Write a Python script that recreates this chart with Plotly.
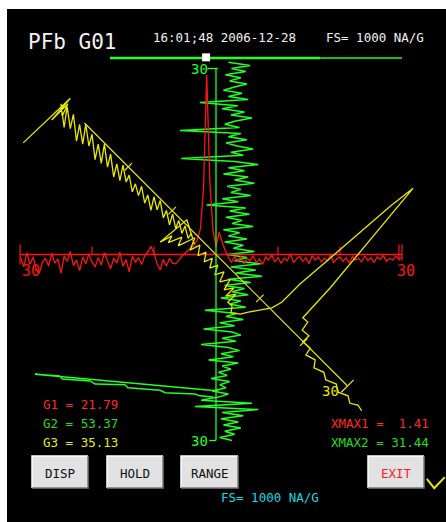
import numpy as np
import plotly.graph_objects as go

W, H = 446, 522

# ---------------------------------------------------------------- data
# Channel 1 (red): horizontal sweep, one sample every 0.5 division
red_start, red_step = -31.5, 0.5
red_vals = [
    -0.5, -2.0, 0.3, -1.6, -0.4, -2.4, -3.0, -1.3, -0.6, -1.9,
    0.2, -1.4, -0.7, -3.0, -0.3, -1.1, 0.5, -1.8, -0.9, -2.6,
    -0.4, -1.5, 0.1, -1.2, -2.0, -0.5, -1.7, 0.3, -1.0, -2.3,
    -0.6, -1.4, 0.4, -1.9, -0.8, -2.8, -0.3, -1.2, -0.5, -1.6,
    -0.2, 0.4, 1.3, 0.2, -1.5, -2.5, -0.8, -1.9, -0.6, -1.4,
    -1.5, -0.8, -0.3, 0.2, 0.6, 1.0, 1.5, 2.4, 4.2, 11.0,
    29.0, 12.0, 4.0, 1.2, 3.6, 2.0, 0.6, -0.4, -1.3, -0.3,
    -1.2, -0.3, -1.5, -0.6, -1.0, -0.2, -1.3, -0.7, -1.6, -0.4,
    -0.9, -0.1, -1.2, -0.5, -1.4, -0.6, -1.0, 0.1, -1.3, -0.7,
    -0.3, -1.1, -0.5, -1.5, -0.2, -0.9, -0.4, -1.2, -0.6, -1.0,
    -0.1, -1.3, -0.7, -0.4, -1.1, -0.5, -1.4, -0.3, -0.9, -0.6,
    -1.2, -0.2, -1.0, -0.5, -1.3, -0.4, -0.8, -0.2, -1.1, -0.6,
    -0.9, -0.3, -0.7, -0.4,
]

# Channel 2 (green): vertical sweep from top to bottom
green_start, green_step = 31.0, -0.5
green_vals = [
    2.0, 5.5, 2.5, 4.8, 1.5, 4.0, 2.2, 5.0, 3.0, 1.2,
    4.2, 2.0, 5.2, -2.6, 3.5, 1.0, 4.6, 2.4, 5.8, 3.0,
    1.4, 3.8, -5.8, 4.0, 2.0, 5.0, 1.6, 3.4, 6.0, 2.4,
    4.4, -5.6, 3.0, 6.8, 2.0, 4.6, 1.2, 5.2, 3.0, 6.2,
    1.8, 4.0, 2.4, 5.6, 1.0, 3.6, -1.5, 4.8, 2.2, 5.4,
    1.6, 4.2, 2.6, 6.0, 1.2, 3.8, 2.0, 5.0, 1.4, 4.4,
    2.8, 6.2, 1.8, 5.0, 3.0, 7.2, 2.4, 6.4, 3.2, 7.4,
    2.0, 5.6, 1.4, 4.6, 2.6, 5.2, 0.8, 4.0, 2.2, 4.8,
    -1.8, 3.4, 1.6, 4.4, 0.6, 3.0, -2.0, 2.6, 4.0, 1.0,
    3.2, -2.4, 2.0, 3.8, 0.8, 2.8, -1.2, 3.6, 1.0, 2.4,
    0.4, 1.8, -0.8, 2.2, 0.6, 1.6, -0.6, 2.0, 0.4, -2.4,
    5.8, -3.4, 6.8, 1.0, 4.4, 0.8, 3.6, 1.2, 4.0, 1.4,
    3.0, 0.6, 2.6,
]
# long excursion of channel 2 towards the left edge and back
green_tail_u = [0.4, -29.2, -25.2, -24.8, -20.3, -19.5, -14.7, -14.2,
                -9.0, -8.2, -3.4, -2.6, -0.5]
green_tail_v = [-22.0, -19.3, -19.6, -20.1, -20.4, -20.9, -21.0, -21.5,
                -21.9, -22.3, -22.5, -22.8, -23.0]

# Channel 3 (yellow): X/Y orbit
yellow_lead_u = [-31.1, -23.5, -26.5, -23.9, -24.8]
yellow_lead_v = [18.0, 25.2, 21.7, 24.3, 22.3]
yellow_band_start, yellow_band_step = -25.0, 0.5
yellow_band_v = [
    24.3, 20.5, 23.8, 20.3, 22.6, 18.3, 21.0, 17.8, 21.0, 17.5,
    19.4, 15.3, 17.8, 14.7, 17.8, 14.1, 16.2, 12.5, 14.6, 11.9,
    14.4, 11.7, 12.8, 10.1, 11.4, 9.5, 11.0, 8.3, 9.6, 7.1,
    9.3, 7.2, 8.7, 5.9, 7.1, 4.8, 6.5, 4.2, 5.5, 3.4,
    4.6, 2.6, 3.4, 1.7,
]
yellow_tail_u = [
    -4.7, -9.0, -7.1, -7.7, -5.5, -6.1, -3.4, -4.2, -2.6, -2.9,
    -1.6, -1.9, -0.6, -1.0, 0.3, -0.2, 1.3, 0.6, 2.3, 1.3,
    2.9, 1.6, 3.2, 1.9, 2.6, 2.4, 3.9, 5.2, 6.5, 7.7,
    9.0, 10.6, 13.5, 18.4, 23.2, 28.1, 31.8, 29.4, 26.5, 22.1,
    18.4, 14.0, 14.8, 13.9, 15.0, 14.0, 15.2, 14.5, 16.0, 15.8,
    17.4, 17.7, 19.4, 19.7, 21.3, 21.6, 22.9, 23.5,
]
yellow_tail_v = [
    5.6, 2.0, 3.0, 1.9, 2.8, 1.4, 2.7, 0.7, 1.5, -0.2,
    0.4, -1.2, -0.6, -2.2, -1.7, -3.3, -2.8, -4.4, -4.0, -5.7,
    -5.4, -6.7, -6.4, -7.7, -8.3, -9.4, -9.6, -9.3, -9.1, -8.8,
    -8.6, -7.7, -4.8, -0.6, 3.6, 7.8, 10.7, 7.8, 4.3, -0.9,
    -5.4, -10.2, -10.9, -12.2, -13.1, -14.1, -15.1, -16.2, -17.0, -18.3,
    -19.0, -20.2, -20.9, -22.2, -22.8, -24.0, -24.3, -25.2,
]
yellow_mark_u = [34.0, 35.2, 36.9]
yellow_mark_v = [-36.2, -37.7, -35.9]

# Scales (divisions) and read-outs
FULL = 30
TICKS = [-20, -10, 10, 20]
red_axis_span = [-31.6, 30.0]
scroll_span = [-17.1, 30.0]
scroll_fill = 16.8
scroll_pos = -1.6
readouts_left = [("G1 = 21.79", "#ff2a2a"), ("G2 = 53.37", "#22dd22"),
                 ("G3 = 35.13", "#eeee00")]
readouts_right = [("XMAX1 =\u00a0\u00a01.41", "#ff2a2a"),
                  ("XMAX2 = 31.44", "#22dd22")]
buttons = ["DISP", "HOLD", "RANGE", "EXIT"]

RED, GREEN, YELLOW = "#ff1414", "#22ff22", "#e8e800"
MONO = "DejaVu Sans Mono"

# ---------------------------------------------------------------- figure
fig = go.Figure()


def trace(u, v, color, width=1.0, **kw):
    fig.add_trace(go.Scatter(x=u, y=v, mode="lines",
                             line=dict(color=color, width=width),
                             hoverinfo="skip", showlegend=False, **kw))


# green channel
gv = green_start + green_step * np.arange(len(green_vals))
trace(green_vals, gv, GREEN, 1.5)
trace(green_tail_u, green_tail_v, GREEN, 1.5)

# red channel
ru = red_start + red_step * np.arange(len(red_vals))
trace(ru, red_vals, RED, 1.3)
trace(red_axis_span, [0, 0], RED, 1.3)
tu, tv = [], []
for t in TICKS:
    tu += [t, t, None]
    tv += [0, 1.3, None]
for t, lo in [(red_axis_span[0], -1.6), (29.5, -1.0), (30.0, -1.0)]:
    tu += [t, t, None]
    tv += [lo, 1.6, None]
trace(tu, tv, RED, 1.2)

# yellow channel
yu = yellow_band_start + yellow_band_step * np.arange(len(yellow_band_v))
trace(yellow_lead_u + list(yu) + yellow_tail_u,
      yellow_lead_v + yellow_band_v + yellow_tail_v, YELLOW, 1.3)
trace(yellow_mark_u, yellow_mark_v, YELLOW, 2.0)

# yellow diagonal scale (axis rotated by 45 degrees)
r = FULL / np.sqrt(2)
trace([-r, r], [r, -r], YELLOW, 1.2)
du, dv = [], []
for t in TICKS + [FULL]:
    c = t / np.sqrt(2)
    a = 1.0 if t == FULL else 0.6
    du += [c - a, c + a, None]
    dv += [-c - a, -c + a, None]
trace(du, dv, YELLOW, 1.2)

# green vertical scale
trace([0, 0], [-FULL, FULL], GREEN, 1.3)
trace([-1.4, 0.3, None, -1.1, 0], [FULL, FULL, None, -FULL, -FULL], GREEN, 1.3)

# scroll indicator along the top
trace(scroll_span[:1] + [scroll_fill], [31.7, 31.7], GREEN, 2.4)
trace([scroll_fill, scroll_span[1]], [31.7, 31.7], GREEN, 1.4)
fig.add_trace(go.Scatter(x=[scroll_pos], y=[31.8], mode="markers",
                         marker=dict(symbol="square", size=8, color="white"),
                         hoverinfo="skip", showlegend=False))

# ---------------------------------------------------------------- layout
def px(x):
    return x / W


def py(y):
    return 1 - y / H


shapes = [dict(type="rect", xref="paper", yref="paper", x0=px(7), x1=1,
               y0=0, y1=py(9), fillcolor="black", line_width=0, layer="below")]
annotations = []


def label(x, y, s, color, size, anchor="center", ref="paper"):
    if ref == "paper":
        d = dict(xref="paper", yref="paper", x=px(x), y=py(y))
    else:
        d = dict(xref="x", yref="y", x=x, y=y)
    annotations.append(dict(text=s, showarrow=False, xanchor=anchor,
                            yanchor="middle",
                            font=dict(family=MONO, size=size, color=color),
                            **d))


label(72, 42, "PFb G01", "#f2f2f2", 21)
label(224, 38, "16:01;48 2006-12-28", "#f2f2f2", 12.5)
label(375, 38, "FS= 1000 NA/G", "#f2f2f2", 12.5)
label(270, 497, "FS= 1000 NA/G", "#18d8e0", 12.5)

for k, (s, c) in enumerate(readouts_left):
    label(41, 404 + 19 * k, s, c, 12.5, "left")
for k, (s, c) in enumerate(readouts_right):
    label(431, 423 + 19 * k, s, c, 12.5, "right")

# scale labels
label(-29.9, -2.6, str(FULL), RED, 15, ref="data")
label(30.6, -2.6, str(FULL), RED, 15, ref="data")
label(-2.7, FULL, str(FULL), GREEN, 14, ref="data")
label(-2.6, -FULL, str(FULL), GREEN, 14, ref="data")
label(18.5, -22.0, str(FULL), YELLOW, 14, ref="data")

# push buttons
btn_x = [(32, 88), (107, 163), (181, 238), (368, 424)]
by0, by1 = 456, 488
for name, (x0, x1) in zip(buttons, btn_x):
    shapes.append(dict(type="rect", xref="paper", yref="paper",
                       x0=px(x0), x1=px(x1), y0=py(by1), y1=py(by0),
                       fillcolor="#e2e2e2", line_width=0, layer="above"))
    shapes.append(dict(type="path", xref="paper", yref="paper",
                       path=f"M {px(x0)} {py(by1)} L {px(x0)} {py(by0)} L {px(x1)} {py(by0)}",
                       line=dict(color="#ffffff", width=1.5), layer="above"))
    shapes.append(dict(type="path", xref="paper", yref="paper",
                       path=f"M {px(x0)} {py(by1)} L {px(x1)} {py(by1)} L {px(x1)} {py(by0)}",
                       line=dict(color="#7a7a7a", width=1.5), layer="above"))
    label((x0 + x1) / 2, (by0 + by1) / 2 + 1, name,
          "#ff2020" if name == "EXIT" else "#111111", 12.5)

# axis ranges: 6.2 px per division, scope origin at pixel (216, 254.5)
k = 6.2
fig.update_layout(
    width=W, height=H, margin=dict(l=0, r=0, t=0, b=0),
    paper_bgcolor="white", plot_bgcolor="rgba(0,0,0,0)",
    xaxis=dict(range=[-216 / k, (W - 216) / k], visible=False, fixedrange=True),
    yaxis=dict(range=[-(H - 254.5) / k, 254.5 / k], visible=False, fixedrange=True),
    shapes=shapes, annotations=annotations, showlegend=False,
)

fig.write_html("out.html", config={"displayModeBar": False})
